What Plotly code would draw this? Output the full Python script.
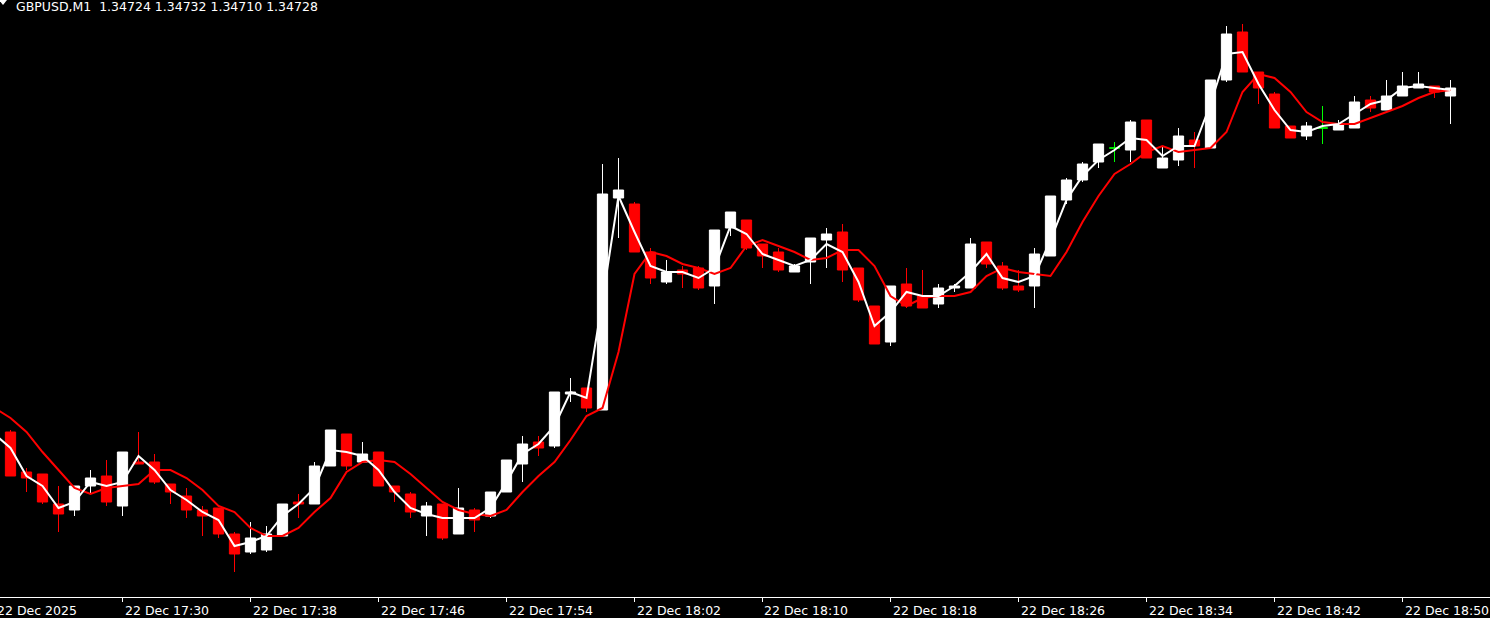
import numpy as np
import pandas as pd
import plotly.graph_objects as go

SYMBOL = "GBPUSD,M1"
START = "2025-12-22 17:23"

OPEN = [1.34556, 1.34536, 1.34535, 1.34520, 1.34517, 1.34529, 1.34534, 1.34519, 1.34541, 1.34541,
        1.34530, 1.34524, 1.34517, 1.34518, 1.34505, 1.34496, 1.34497, 1.34504, 1.34521, 1.34520,
        1.34539, 1.34555, 1.34541, 1.34546, 1.34529, 1.34525, 1.34514, 1.34520, 1.34505, 1.34517,
        1.34514, 1.34526, 1.34540, 1.34551, 1.34549, 1.34575, 1.34578, 1.34567, 1.34673, 1.34670,
        1.34646, 1.34631, 1.34637, 1.34638, 1.34629, 1.34658, 1.34662, 1.34650, 1.34646, 1.34636,
        1.34641, 1.34652, 1.34656, 1.34638, 1.34619, 1.34601, 1.34630, 1.34624, 1.34620, 1.34628,
        1.34628, 1.34651, 1.34639, 1.34629, 1.34629, 1.34644, 1.34672, 1.34682, 1.34691, 1.34698,
        1.34697, 1.34712, 1.34688, 1.34692, 1.34702, 1.34698, 1.34732, 1.34756, 1.34736, 1.34725,
        1.34709, 1.34704, 1.34708, 1.34707, 1.34708, 1.34722, 1.34717, 1.34724, 1.34728, 1.34729,
        1.34724]
HIGH = [1.34557, 1.34538, 1.34535, 1.34529, 1.34529, 1.34537, 1.34542, 1.34546, 1.34556, 1.34545,
        1.34530, 1.34528, 1.34519, 1.34518, 1.34506, 1.34511, 1.34509, 1.34520, 1.34525, 1.34541,
        1.34557, 1.34555, 1.34551, 1.34546, 1.34529, 1.34526, 1.34521, 1.34520, 1.34528, 1.34518,
        1.34526, 1.34542, 1.34554, 1.34554, 1.34576, 1.34583, 1.34578, 1.34690, 1.34693, 1.34671,
        1.34648, 1.34642, 1.34639, 1.34639, 1.34657, 1.34666, 1.34662, 1.34650, 1.34648, 1.34640,
        1.34653, 1.34658, 1.34660, 1.34638, 1.34619, 1.34629, 1.34638, 1.34637, 1.34630, 1.34630,
        1.34653, 1.34651, 1.34641, 1.34637, 1.34648, 1.34674, 1.34683, 1.34691, 1.34700, 1.34701,
        1.34712, 1.34712, 1.34699, 1.34708, 1.34706, 1.34732, 1.34759, 1.34760, 1.34736, 1.34726,
        1.34709, 1.34711, 1.34719, 1.34712, 1.34724, 1.34724, 1.34732, 1.34736, 1.34736, 1.34729,
        1.34732]
LOW = [1.34534, 1.34526, 1.34520, 1.34506, 1.34514, 1.34525, 1.34519, 1.34514, 1.34540, 1.34530,
       1.34520, 1.34513, 1.34504, 1.34503, 1.34486, 1.34495, 1.34496, 1.34504, 1.34513, 1.34520,
       1.34539, 1.34537, 1.34541, 1.34529, 1.34521, 1.34513, 1.34504, 1.34502, 1.34505, 1.34506,
       1.34513, 1.34526, 1.34531, 1.34544, 1.34548, 1.34571, 1.34566, 1.34567, 1.34653, 1.34646,
       1.34630, 1.34630, 1.34628, 1.34627, 1.34620, 1.34654, 1.34647, 1.34638, 1.34636, 1.34636,
       1.34630, 1.34638, 1.34631, 1.34621, 1.34600, 1.34599, 1.34618, 1.34618, 1.34618, 1.34626,
       1.34628, 1.34638, 1.34627, 1.34626, 1.34618, 1.34644, 1.34670, 1.34681, 1.34688, 1.34691,
       1.34691, 1.34693, 1.34688, 1.34689, 1.34688, 1.34698, 1.34731, 1.34736, 1.34720, 1.34708,
       1.34703, 1.34702, 1.34700, 1.34707, 1.34708, 1.34716, 1.34717, 1.34724, 1.34728, 1.34723,
       1.34710]
CLOSE = [1.34534, 1.34533, 1.34521, 1.34515, 1.34529, 1.34533, 1.34521, 1.34546, 1.34540, 1.34531,
         1.34526, 1.34517, 1.34514, 1.34505, 1.34495, 1.34503, 1.34505, 1.34520, 1.34520, 1.34539,
         1.34557, 1.34539, 1.34545, 1.34529, 1.34526, 1.34516, 1.34519, 1.34503, 1.34518, 1.34512,
         1.34526, 1.34542, 1.34550, 1.34548, 1.34576, 1.34576, 1.34568, 1.34675, 1.34677, 1.34646,
         1.34633, 1.34636, 1.34635, 1.34628, 1.34657, 1.34666, 1.34648, 1.34644, 1.34637, 1.34639,
         1.34653, 1.34655, 1.34637, 1.34622, 1.34600, 1.34629, 1.34619, 1.34618, 1.34628, 1.34629,
         1.34650, 1.34640, 1.34628, 1.34627, 1.34645, 1.34674, 1.34682, 1.34690, 1.34700, 1.34698,
         1.34711, 1.34693, 1.34693, 1.34704, 1.34699, 1.34732, 1.34755, 1.34736, 1.34728, 1.34708,
         1.34703, 1.34709, 1.34708, 1.34710, 1.34721, 1.34718, 1.34724, 1.34729, 1.34730, 1.34726,
         1.34728]

# moving averages as drawn on the chart; first value belongs to the bar before START
MA_FAST = [1.34555,
           1.34548, 1.34534, 1.34529, 1.34518, 1.34521, 1.34531, 1.34529, 1.34531, 1.34544, 1.34537,
           1.34527, 1.34522, 1.34516, 1.34512, 1.34499, 1.34501, 1.34504, 1.34514, 1.34520, 1.34528,
           1.34547, 1.34546, 1.34544, 1.34537, 1.34526, 1.34518, 1.34515, 1.34513, 1.34513, 1.34513,
           1.34518, 1.34531, 1.34545, 1.34550, 1.34559, 1.34576, 1.34573, 1.34622, 1.34674, 1.34656,
           1.34639, 1.34636, 1.34636, 1.34633, 1.34638, 1.34659, 1.34655, 1.34645, 1.34642, 1.34639,
           1.34642, 1.34650, 1.34646, 1.34631, 1.34609, 1.34616, 1.34626, 1.34624, 1.34624, 1.34629,
           1.34636, 1.34645, 1.34633, 1.34631, 1.34634, 1.34652, 1.34672, 1.34684, 1.34692, 1.34697,
           1.34703, 1.34702, 1.34694, 1.34699, 1.34699, 1.34720, 1.34745, 1.34746, 1.34730, 1.34717,
           1.34707, 1.34706, 1.34709, 1.34710, 1.34715, 1.34720, 1.34722, 1.34728, 1.34729, 1.34728,
           1.34727]
MA_SLOW = [1.34568,
           1.34563, 1.34556, 1.34546, 1.34537, 1.34528, 1.34525, 1.34528, 1.34529, 1.34530, 1.34537,
           1.34537, 1.34533, 1.34527, 1.34519, 1.34516, 1.34508, 1.34504, 1.34504, 1.34508, 1.34516,
           1.34523, 1.34536, 1.34541, 1.34542, 1.34541, 1.34535, 1.34528, 1.34521, 1.34517, 1.34515,
           1.34514, 1.34517, 1.34526, 1.34534, 1.34541, 1.34552, 1.34564, 1.34568, 1.34596, 1.34635,
           1.34646, 1.34644, 1.34640, 1.34638, 1.34635, 1.34638, 1.34649, 1.34652, 1.34649, 1.34646,
           1.34642, 1.34643, 1.34647, 1.34647, 1.34639, 1.34624, 1.34619, 1.34623, 1.34624, 1.34624,
           1.34626, 1.34634, 1.34638, 1.34636, 1.34635, 1.34634, 1.34646, 1.34661, 1.34674, 1.34685,
           1.34690, 1.34696, 1.34699, 1.34696, 1.34697, 1.34698, 1.34706, 1.34726, 1.34735, 1.34733,
           1.34726, 1.34716, 1.34711, 1.34710, 1.34710, 1.34713, 1.34716, 1.34719, 1.34723, 1.34726,
           1.34727]

TICK_TIMES = ["2025-12-22 17:22", "2025-12-22 17:30", "2025-12-22 17:38", "2025-12-22 17:46",
              "2025-12-22 17:54", "2025-12-22 18:02", "2025-12-22 18:10", "2025-12-22 18:18",
              "2025-12-22 18:26", "2025-12-22 18:34", "2025-12-22 18:42", "2025-12-22 18:50"]
TICK_TEXT = ["22 Dec 2025", "22 Dec 17:30", "22 Dec 17:38", "22 Dec 17:46", "22 Dec 17:54",
             "22 Dec 18:02", "22 Dec 18:10", "22 Dec 18:18", "22 Dec 18:26", "22 Dec 18:34",
             "22 Dec 18:42", "22 Dec 18:50"]

FONT = "DejaVu Sans"
BULL = "#ffffff"
BEAR = "#ff0000"
DOJI = "#00ff00"

times = pd.date_range(START, periods=len(OPEN), freq="min")
ma_times = pd.date_range(times[0] - pd.Timedelta(minutes=1), periods=len(MA_FAST), freq="min")

# 16 px per bar, first bar centred on a pixel so 1px wicks stay crisp
x0 = times[0] - pd.Timedelta(seconds=10.5 / 16 * 60)
x1 = x0 + pd.Timedelta(seconds=1490 / 16 * 60)

o, h, l, c = (np.array(v) for v in (OPEN, HIGH, LOW, CLOSE))
doji = o == c

fig = go.Figure()
fig.add_trace(go.Candlestick(
    x=times[~doji], open=o[~doji], high=h[~doji], low=l[~doji], close=c[~doji],
    increasing=dict(line=dict(color=BULL, width=1), fillcolor=BULL),
    decreasing=dict(line=dict(color=BEAR, width=1), fillcolor=BEAR),
    whiskerwidth=0,
))
fig.add_trace(go.Candlestick(
    x=times[doji], open=o[doji], high=h[doji], low=l[doji], close=c[doji],
    increasing=dict(line=dict(color=DOJI, width=1), fillcolor=DOJI),
    decreasing=dict(line=dict(color=DOJI, width=1), fillcolor=DOJI),
    whiskerwidth=0,
))
fig.add_trace(go.Scatter(x=ma_times, y=MA_SLOW, mode="lines",
                         line=dict(color=BEAR, width=2)))
fig.add_trace(go.Scatter(x=ma_times, y=MA_FAST, mode="lines",
                         line=dict(color=BULL, width=2)))

# MT4-style time labels sit to the right of their tick (paper refs so the
# first one may hang off the left edge)
for t, txt in zip(TICK_TIMES, TICK_TEXT):
    px = (pd.Timestamp(t) - x0) / (x1 - x0)
    fig.add_annotation(x=px, y=-0.0067, xref="paper", yref="paper", text=txt,
                       showarrow=False, xanchor="left", yanchor="top",
                       font=dict(family=FONT, size=12.5, color="#ffffff"))

header = f"{SYMBOL}\u00a0\u00a0{OPEN[-1]:.5f} {HIGH[-1]:.5f} {LOW[-1]:.5f} {CLOSE[-1]:.5f}"
fig.add_annotation(x=14 / 1490, y=1.0052, xref="paper", yref="paper", text=header,
                   showarrow=False, xanchor="left", yanchor="top",
                   font=dict(family=FONT, size=12.5, color="#ffffff"))
fig.add_shape(type="path", xref="paper", yref="paper",
              path=f"M {-1/1490},1 L {7/1490},1 L {3/1490},{1-5/597} Z",
              fillcolor="#ffffff", line=dict(width=0))

fig.update_layout(
    width=1490, height=618,
    margin=dict(l=0, r=0, t=0, b=21),
    paper_bgcolor="#000000",
    plot_bgcolor="#000000",
    showlegend=False,
    boxgap=0.36, boxgroupgap=0,
    xaxis=dict(
        type="date",
        range=[x0, x1],
        rangeslider=dict(visible=False),
        showgrid=False, zeroline=False,
        showline=True, linecolor="#ffffff", linewidth=1,
        tickvals=TICK_TIMES, ticks="outside", ticklen=4, tickcolor="#ffffff",
        showticklabels=False,
    ),
    yaxis=dict(range=[1.344735, 1.34772], visible=False, showgrid=False),
)

fig.write_html("out.html", config=dict(displayModeBar=False),
               post_script="document.body.style.margin='0';"
                           "document.body.style.overflow='hidden';"
                           "document.body.style.background='#000';")
